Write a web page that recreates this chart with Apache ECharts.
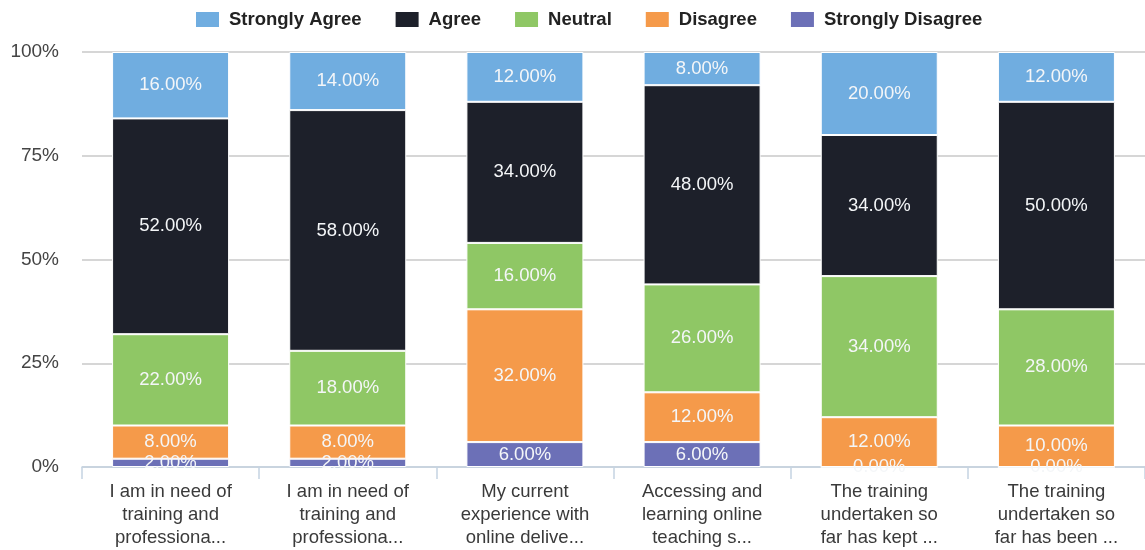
<!DOCTYPE html>
<html><head><meta charset="utf-8">
<script src="https://cdn.jsdelivr.net/npm/echarts@6/dist/echarts.min.js"></script>
<style>html,body{margin:0;padding:0;background:#fff}#c{width:1145px;height:550px}</style>
</head><body><div id="c"></div>
<script>
const categories = [
  "I am in need of\ntraining and\nprofessiona...",
  "I am in need of\ntraining and\nprofessiona...",
  "My current\nexperience with\nonline delive...",
  "Accessing and\nlearning online\nteaching s...",
  "The training\nundertaken so\nfar has kept ...",
  "The training\nundertaken so\nfar has been ..."
];
const stronglyDisagree = [2, 2, 6, 6, 0, 0];
const disagree = [8, 8, 32, 12, 12, 10];
const neutral = [22, 18, 16, 26, 34, 28];
const agree = [52, 58, 34, 48, 34, 50];
const stronglyAgree = [16, 14, 12, 8, 20, 12];
const yTicks = [0, 25, 50, 75, 100];

const seriesDefs = [
  {name: "Strongly Disagree", data: stronglyDisagree, color: "#6c70b7"},
  {name: "Disagree", data: disagree, color: "#f59a4a"},
  {name: "Neutral", data: neutral, color: "#8fc765"},
  {name: "Agree", data: agree, color: "#1d202a"},
  {name: "Strongly Agree", data: stronglyAgree, color: "#70ade0"}
];

const chart = echarts.init(document.getElementById('c'));
chart.setOption({
  animation: false,
  legend: {
    top: 5, left: 189, itemWidth: 25, itemHeight: 17, itemGap: 32, icon: 'rect',
    data: ["Strongly Agree", "Agree", "Neutral", "Disagree", "Strongly Disagree"],
    textStyle: {fontFamily: "Liberation Sans", fontSize: 18.5, fontWeight: 'bold', color: '#222', padding: [0, 0, 0, 4]}
  },
  grid: {left: 82, right: -9, top: 52, bottom: 83},
  xAxis: {
    type: 'category', data: categories,
    axisLine: {lineStyle: {color: '#c5d3e2', width: 1.5}},
    axisTick: {show: true, length: 12, lineStyle: {color: '#c5d3e2', width: 1.5}},
    axisLabel: {fontFamily: "Liberation Sans", fontSize: 18.5, color: '#3a3a3a', lineHeight: 23, margin: 13, interval: 0}
  },
  yAxis: {
    type: 'value', min: yTicks[0], max: yTicks[yTicks.length - 1], interval: 25,
    axisLabel: {formatter: '{value}%', fontFamily: "Liberation Sans", fontSize: 19, color: '#444', margin: 23},
    axisLine: {show: false}, axisTick: {show: false},
    splitLine: {lineStyle: {color: '#c8c8c8', width: 1.5}}
  },
  series: seriesDefs.map(s => ({
    name: s.name, type: 'bar', stack: 'total', data: s.data, barWidth: 117,
    itemStyle: {color: s.color, borderColor: '#fff', borderWidth: 1},
    label: {
      show: true, position: 'inside',
      formatter: p => p.value.toFixed(2) + '%',
      fontFamily: "Liberation Sans", fontSize: 18.5, color: '#f4f6f8',
      textBorderWidth: 0
    }
  }))
});
</script></body></html>
